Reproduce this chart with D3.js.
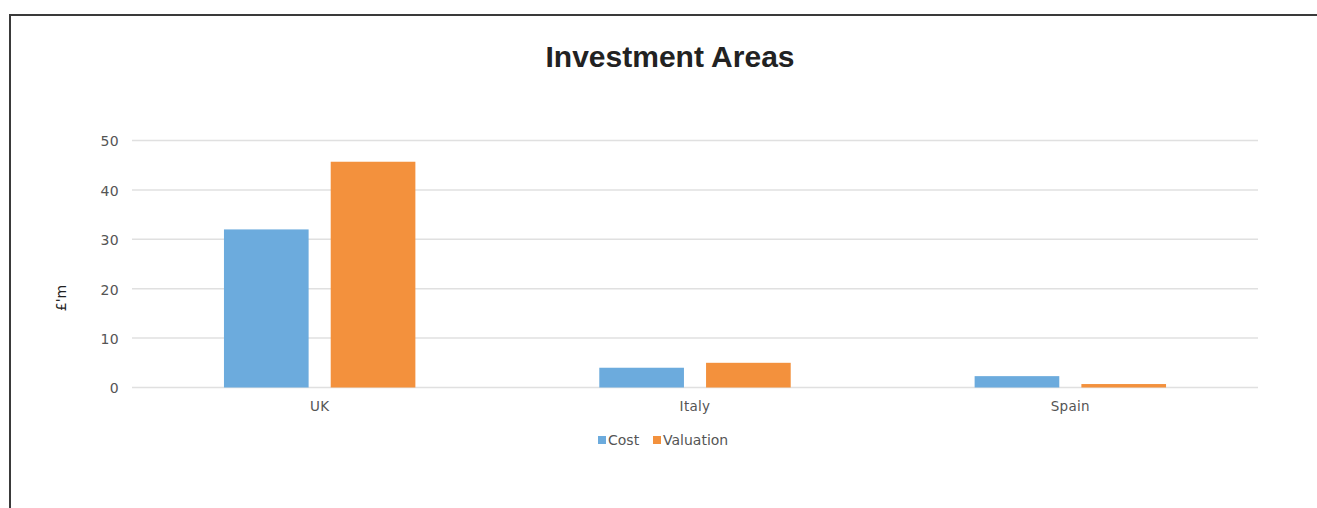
<!DOCTYPE html>
<html>
<head>
<meta charset="utf-8">
<script src="https://cdn.jsdelivr.net/npm/d3@7"></script>
<style>
  body { margin: 0; background: #fff; }
  svg { display: block; }
</style>
</head>
<body>
<svg id="chart"></svg>
<script>
// DATA
const areas = ['UK', 'Italy', 'Spain'];
const seriesNames = ['Cost', 'Valuation'];
const cost = [32.0, 4.0, 2.3];
const valuation = [45.7, 5.0, 0.7];
const yTicks = [0, 10, 20, 30, 40, 50];
const colors = ['#6cabdd', '#f3913d'];

const width = 1317, height = 508;
const svg = d3.select('#chart').attr('width', width).attr('height', height);

// frame (top + left edge visible)
svg.append('path')
  .attr('d', `M10,${height} V15 H${width}`)
  .attr('fill', 'none')
  .attr('stroke', '#3a3a3a')
  .attr('stroke-width', 2);

// title
svg.append('text')
  .attr('x', 670)
  .attr('y', 67)
  .attr('text-anchor', 'middle')
  .attr('font-family', 'Liberation Sans, Arial, sans-serif')
  .attr('font-weight', 'bold')
  .attr('font-size', '30px')
  .attr('fill', '#222')
  .text('Investment Areas');

const margin = { left: 132, right: 1258, top: 140.5, bottom: 387.5 };

const y = d3.scaleLinear().domain([0, 50]).range([margin.bottom, margin.top]);
const x0 = d3.scaleBand().domain(areas).range([margin.left, margin.right])
  .paddingInner(0.49).paddingOuter(0.245);
const x1 = d3.scaleBand().domain(seriesNames).range([0, x0.bandwidth()])
  .paddingInner(0.207);

// gridlines
svg.append('g').selectAll('line').data(yTicks).join('line')
  .attr('x1', margin.left).attr('x2', margin.right)
  .attr('y1', d => y(d)).attr('y2', d => y(d))
  .attr('stroke', '#e0e0e0')
  .attr('stroke-width', 1.5);

// y tick labels
const yAxis = svg.append('g')
  .attr('transform', `translate(119,1)`)
  .call(d3.axisLeft(y).tickValues(yTicks).tickSize(0).tickPadding(0));
yAxis.select('.domain').remove();
yAxis.selectAll('text')
  .attr('font-family', 'DejaVu Sans, sans-serif')
  .attr('font-size', '14px')
  .attr('letter-spacing', '0.4px')
  .attr('fill', '#555');

// y axis title
svg.append('text')
  .attr('transform', 'translate(66,298) rotate(-90)')
  .attr('text-anchor', 'middle')
  .attr('font-family', 'DejaVu Sans, sans-serif')
  .attr('font-size', '14px')
  .attr('fill', '#222')
  .text("£'m");

// bars
const rows = areas.map((a, i) => ({ area: a, values: [cost[i], valuation[i]] }));
const groups = svg.append('g').selectAll('g').data(rows).join('g')
  .attr('transform', d => `translate(${x0(d.area)},0)`);
groups.selectAll('rect')
  .data(d => d.values.map((v, j) => ({ key: seriesNames[j], v, j })))
  .join('rect')
  .attr('x', d => x1(d.key))
  .attr('width', x1.bandwidth())
  .attr('y', d => y(d.v))
  .attr('height', d => y(0) - y(d.v))
  .attr('fill', d => colors[d.j]);

// x labels
const xAxis = svg.append('g')
  .attr('transform', `translate(0,${margin.bottom + 10})`)
  .call(d3.axisBottom(x0).tickSize(0).tickPadding(4));
xAxis.select('.domain').remove();
xAxis.selectAll('text')
  .attr('font-family', 'DejaVu Sans, sans-serif')
  .attr('font-size', '13.5px')
  .attr('letter-spacing', '0.3px')
  .attr('fill', '#555');

// legend
const legendX = [598, 653];
const legend = svg.append('g').selectAll('g').data(seriesNames).join('g')
  .attr('transform', (d, i) => `translate(${legendX[i]},436)`);
legend.append('rect')
  .attr('width', 8).attr('height', 8)
  .attr('fill', (d, i) => colors[i]);
legend.append('text')
  .attr('x', 10).attr('y', 9)
  .attr('font-family', 'DejaVu Sans, sans-serif')
  .attr('font-size', '14px')
  .attr('fill', '#555')
  .text(d => d);
</script>
</body>
</html>
